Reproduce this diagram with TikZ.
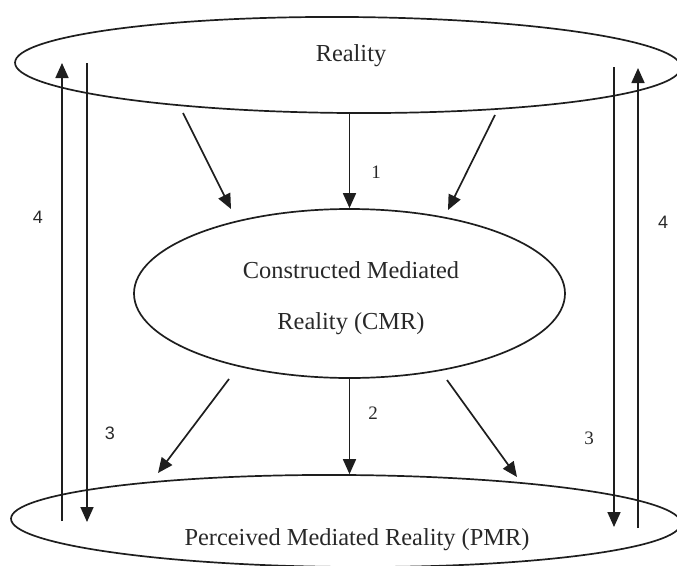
\documentclass[tikz,border=0pt]{standalone}
\usepackage{fontspec}
\setmainfont{Liberation Serif}
\newfontfamily\digsans{Liberation Sans}
\usetikzlibrary{shapes.geometric,arrows.meta}
\definecolor{ink}{RGB}{30,30,30}
\definecolor{txtc}{RGB}{40,40,40}
\tikzset{
  ell/.style={draw=ink, line width=1.7pt, ellipse, inner sep=0pt},
  arr/.style={draw=ink, line width=1.7pt, -{Triangle[length=15pt,width=13pt]}},
  txt/.style={text=txtc, inner sep=0pt, font=\fontsize{24.4}{51}\selectfont, align=center},
  num/.style={text=txtc, inner sep=0pt, font=\fontsize{19}{19}\selectfont},
  numsans/.style={text=txtc, inner sep=0pt, font=\digsans\fontsize{18}{18}\selectfont},
}
\begin{document}
\begin{tikzpicture}[x=1pt,y=-1pt]
\useasboundingbox (0,0) rectangle (677,565);
% ellipses
\node[ell, minimum width=666pt, minimum height=96pt, rotate=-0.4] (R) at (348,65) {};
\node[ell, minimum width=431pt, minimum height=169pt] (C) at (349.5,293.5) {};
\node[ell, minimum width=670pt, minimum height=92pt, rotate=-0.4] (P) at (346,521) {};
% texts
\node[txt] (Rt) at (351,56) {Reality};
\node[txt] (Ct) at (351,298) {Constructed Mediated\\Reality (CMR)};
\node[txt] (Pt) at (357,540) {Perceived Mediated Reality (PMR)};
% coordinates for side arrows
\coordinate (lua) at (62,521);
\coordinate (lub) at (62,63);
\coordinate (lda) at (87,63);
\coordinate (ldb) at (87,522);
\coordinate (rda) at (614,67);
\coordinate (rdb) at (614,527);
\coordinate (rua) at (638,528);
\coordinate (rub) at (638,68);
\draw[arr] (lua) -- (lub);
\draw[arr] (lda) -- (ldb);
\draw[arr] (rda) -- (rdb);
\draw[arr] (rua) -- (rub);
% top arrows
\coordinate (t1a) at (183,113);
\coordinate (t1b) at (231,209);
\coordinate (t3a) at (495,115);
\coordinate (t3b) at (448,210);
\draw[arr] (t1a) -- (t1b);
\draw[arr] (C.north |- R.south) -- (C.north);
\draw[arr] (t3a) -- (t3b);
% bottom arrows
\coordinate (b1a) at (229,379);
\coordinate (b1b) at (158,473);
\coordinate (b3a) at (447,380);
\coordinate (b3b) at (517,477);
\draw[arr] (b1a) -- (b1b);
\draw[arr] (C.south) -- (C.south |- P.north);
\draw[arr] (b3a) -- (b3b);
% labels
\node[num] (n1) at (376,172) {1};
\node[num] (n2) at (373,413) {2};
\node[numsans] (n4l) at (38,217) {4};
\node[numsans] (n3l) at (110,433) {3};
\node[numsans] (n4r) at (663,222) {4};
\node[num] (n3r) at (589,438) {3};
\end{tikzpicture}
\end{document}
